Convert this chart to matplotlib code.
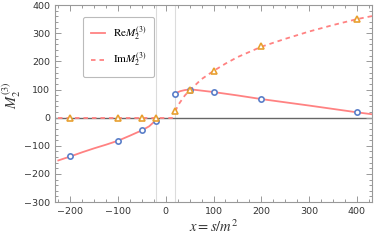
import matplotlib
matplotlib.use('Agg')
import matplotlib.pyplot as plt
from matplotlib.ticker import MultipleLocator

plt.rcParams['mathtext.fontset'] = 'stix'
plt.rcParams['font.family'] = ['DejaVu Sans']

# sample points (markers)
x_pts = [-200, -100, -50, -20, 20, 50, 100, 200, 400]
re_pts = [-138, -82, -44, -12, 84, 100, 91, 66, 19]
im_pts = [0, 0, 0, 0, 22, 97, 166, 253, 350]

# Re curve (below and above the gap)
re_left_x = [-225, -200, -175, -150, -125, -100, -75, -50, -35, -20]
re_left_y = [-152, -138, -123, -109, -96, -82, -64, -45, -31, -8]
re_right_x = [20, 25, 30, 35, 40, 50, 60, 75, 100, 150, 200, 300, 400, 432]
re_right_y = [84, 90, 94, 96, 98, 100, 99, 96, 91, 79, 66, 43, 19, 12]

# Im curve
im_left_x = [-225, 20]
im_left_y = [0, 0]
im_right_x = [20, 25, 30, 40, 50, 60, 75, 100, 125, 150, 200, 250, 300, 350, 400, 432]
im_right_y = [22, 42, 55, 79, 97, 113, 137, 166, 192, 215, 252, 280, 306, 329, 350, 361]

vlines_x = [-20, 20]

fig = plt.figure(figsize=(3.74, 2.42), dpi=100)
ax = fig.add_axes([0.147, 0.165, 0.848, 0.814])

line_c = '#ff8282'
for xv in vlines_x:
    ax.axvline(xv, color='#dcdcdc', lw=0.8, zorder=0)
ax.axhline(0, color='#666666', lw=1.0, zorder=1)

ax.plot(re_left_x, re_left_y, color=line_c, lw=1.3, zorder=2, label=r'$\mathrm{Re}M_2^{(3)}$')
ax.plot(re_right_x, re_right_y, color=line_c, lw=1.3, zorder=2)
ax.plot(im_left_x, im_left_y, color=line_c, lw=1.3, dashes=(2.5, 2.2), zorder=2, label=r'$\mathrm{Im}M_2^{(3)}$')
ax.plot(im_right_x, im_right_y, color=line_c, lw=1.3, dashes=(2.5, 2.2), zorder=2)

ax.plot(x_pts, re_pts, 'o', mfc='white', mec='#5b7fc9', mew=1.2, ms=3.8, ls='none', zorder=3)
ax.plot(x_pts, im_pts, '^', mfc='white', mec='#e8a030', mew=1.2, ms=4.3, ls='none', zorder=3)

ax.set_xlim(-232, 432)
ax.set_ylim(-300, 400)
ax.xaxis.set_major_locator(MultipleLocator(100))
ax.xaxis.set_minor_locator(MultipleLocator(25))
ax.yaxis.set_major_locator(MultipleLocator(100))
ax.yaxis.set_minor_locator(MultipleLocator(20))
ax.tick_params(which='both', direction='in', top=True, right=True, colors='#999999',
               labelcolor='#333333', labelsize=6.8, width=0.7)
ax.tick_params(which='major', length=4)
ax.tick_params(which='minor', length=2)
for s in ax.spines.values():
    s.set_color('#999999')
    s.set_linewidth(0.8)

ax.set_xlabel(r'$x=s/m^2$', fontsize=10.5, color='#333333', labelpad=2)
ax.set_ylabel(r'$M_2^{(3)}$', fontsize=10.5, color='#333333', labelpad=2)
ax.yaxis.set_label_coords(-0.1, 0.54)

leg = ax.legend(loc='upper left', bbox_to_anchor=(0.088, 0.94), borderaxespad=0,
                fontsize=8, handlelength=1.3, labelspacing=0.75, borderpad=0.7,
                handletextpad=0.7, fancybox=True, framealpha=1, edgecolor='#bbbbbb')
leg.get_frame().set_linewidth(0.8)

fig.savefig('out.png', dpi=100)
